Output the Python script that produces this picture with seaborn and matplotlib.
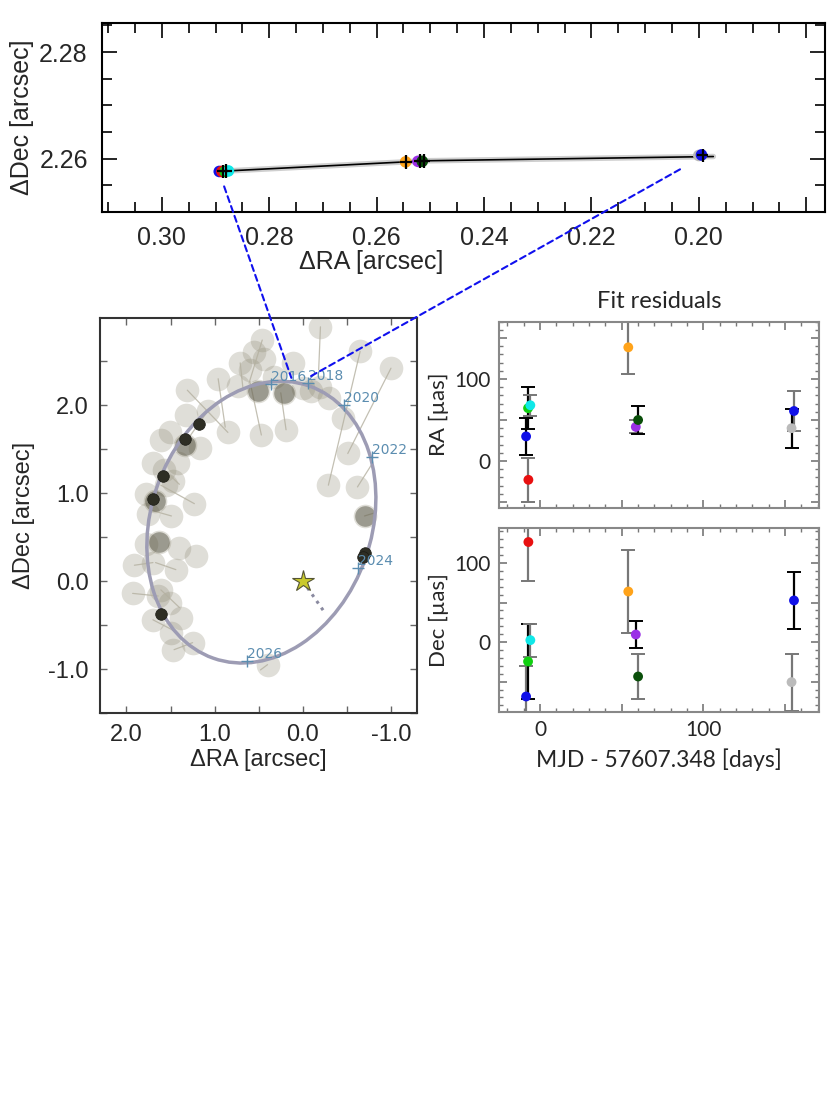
import numpy as np
import pandas as pd
import matplotlib
matplotlib.use('Agg')
import matplotlib.pyplot as plt
import seaborn as sns
from matplotlib.patches import Ellipse, ConnectionPatch
from matplotlib.ticker import MultipleLocator, FuncFormatter

sns.set_theme(style="ticks")
plt.rcParams['font.family'] = ['Liberation Sans', 'DejaVu Sans']
plt.rcParams['axes.unicode_minus'] = False

# --- zoomed astrometry panel (arcsec) ---
top_ra = [0.2893, 0.2888, 0.2882, 0.2876, 0.2546, 0.2523, 0.2515, 0.2000, 0.1995]
top_dec = [2.2576, 2.2576, 2.2576, 2.2577, 2.2594, 2.2595, 2.2595, 2.2606, 2.2607]
top_col = ['#1010e8', '#e81010', '#10d010', '#10e8e8', '#ffa31a', '#9b30e6', '#0a4f0a', '#b8b8b8', '#1010e8']
cross_ra = [0.2887, 0.2880, 0.2546, 0.2520, 0.2512, 0.1993]
cross_dec = [2.2576, 2.2577, 2.2594, 2.2595, 2.2596, 2.2606]
path_ra = [0.2898, 0.2546, 0.2512, 0.1973]
path_dec = [2.2576, 2.2594, 2.2596, 2.2604]

# --- orbit panel (arcsec) ---
circ_ra = [-0.20, 0.46, -0.65, -1.00, 0.44, 0.71, 0.11, 0.96, 1.31, -0.09, 0.21, 0.51,
           -0.30, -0.46, 0.85, 0.47, 0.19, -0.51, -0.29, -0.62, -0.70, 0.60, 0.00, -0.19,
           1.08, 1.32, 1.51, 1.61, 1.34, 1.17, 1.42, 1.70, 1.57, 1.78, 1.47, 1.23, 1.68,
           1.76, 1.49, 1.63, 1.78, 1.40, 1.91, 1.70, 1.44, 1.93, 1.64, 1.51, 1.61, 1.70,
           1.38, 1.49, 1.25, 1.47, 0.40, 1.55, 1.21, 0.33, 0.73, 0.55]
circ_dec = [2.89, 2.74, 2.61, 2.42, 2.53, 2.48, 2.48, 2.30, 2.17, 2.16, 2.14, 2.16,
            2.08, 1.85, 1.69, 1.66, 1.72, 1.46, 1.09, 1.07, 0.74, 2.40, 2.19, 2.21,
            1.93, 1.89, 1.70, 1.60, 1.55, 1.51, 1.34, 1.34, 1.26, 0.99, 1.14, 0.88, 0.91,
            0.76, 0.74, 0.44, 0.42, 0.38, 0.18, 0.21, 0.13, -0.14, -0.17, -0.25, -0.10, -0.44,
            -0.42, -0.59, -0.70, -0.78, -0.95, 1.09, 0.29, 2.32, 2.22, 2.60]
dark_big_ra = [1.34, 1.63, 0.21, 0.51, 1.68, -0.70]
dark_big_dec = [1.55, 0.44, 2.14, 2.16, 0.91, 0.74]
dark_ra = [1.18, 1.34, 1.59, 1.70, 1.61, -0.70, -0.68]
dark_dec = [1.79, 1.62, 1.20, 0.93, -0.38, 0.32, 0.27]
seg_ra0 = [-0.20, -0.65, -1.00, 1.31, 0.19, 0.47, -0.62, 0.46, 0.96, 0.71, 1.23, 1.93,
           1.70, 1.91, 1.44, 1.25, 0.40, -0.70, 1.08, 1.57, 1.49, 1.61]
seg_dec0 = [2.89, 2.61, 2.42, 2.17, 1.72, 1.66, 1.07, 2.74, 2.30, 2.48, 0.88, -0.14,
            -0.44, 0.18, 0.13, -0.70, -0.95, 0.74, 1.93, 1.26, 0.74, -0.10]
seg_ra1 = [-0.18, -0.29, -0.51, 0.85, 0.25, 0.60, -0.79, 0.61, 0.88, 0.68, 1.61, 1.64,
           1.47, 1.70, 1.67, 1.46, 0.48, -0.83, 1.30, 1.40, 1.70, 1.40]
seg_dec1 = [2.40, 1.09, 1.45, 1.69, 2.14, 2.27, 1.34, 2.25, 1.75, 2.20, 1.09, -0.17,
            -0.56, 0.21, 0.21, -0.78, -1.01, 0.78, 1.62, 1.10, 0.80, -0.30]
ell_center = (0.47, 0.67)
ell_width, ell_height, ell_angle = 3.28, 2.50, 109.4
years = ['2016', '2018', '2020', '2022', '2024', '2026']
year_ra = [0.36, -0.06, -0.47, -0.79, -0.63, 0.63]
year_dec = [2.24, 2.25, 2.00, 1.41, 0.15, -0.91]
star_ra, star_dec = [0.0], [0.0]
motion_ra = [0.0, -0.25]
motion_dec = [0.0, -0.36]

# --- fit residuals (micro-arcsec) ---
ep_col = ['#e81010', '#1010e8', '#10d010', '#10e8e8', '#ffa31a', '#9b30e6', '#0a4f0a', '#1010e8', '#bbbbbb']
ep_days = [-7.2, -8.6, -7.4, -6.0, 54.0, 58.6, 60.0, 155.5, 154.0]
res_ra = [-23, 30, 64.5, 68, 138.7, 41.6, 50, 61, 40]
err_ra = [27, 23, 26, 13, 32, 8, 17, 24, 24]
res_dec = [126.6, -68.8, -24.5, 2.5, 64, 9.6, -43.5, 52.7, -50.6]
err_dec = [49, 38, 47, 21, 53, 17, 28, 36.5, 36]
ecol_ra = ['#777777', 'black', 'black', '#777777', '#777777', '#777777', 'black', '#777777', 'black']
ecol_dec = ['#777777', '#777777', 'black', '#777777', '#777777', 'black', '#777777', 'black', '#777777']

fig = plt.figure(figsize=(8.3, 11.07), dpi=100)
ax_top = fig.add_axes([0.1225, 0.8085, 0.8715, 0.171])
ax_orb = fig.add_axes([0.1205, 0.3559, 0.3819, 0.3568])
ax_ra = fig.add_axes([0.6016, 0.5414, 0.3855, 0.168])
ax_dec = fig.add_axes([0.6016, 0.3571, 0.3855, 0.1657])

lato = ['Lato', 'DejaVu Sans']

# ---------------- top zoom panel ----------------
ax_top.plot(path_ra, path_dec, color='#bbbbbb', lw=4, alpha=0.7, zorder=1)
ax_top.plot(path_ra, path_dec, color='black', lw=1.2, zorder=2)
sns.scatterplot(x=top_ra, y=top_dec, hue=list(range(len(top_ra))), palette=top_col,
                s=70, linewidth=0, legend=False, ax=ax_top, zorder=3)
ax_top.errorbar(cross_ra, cross_dec, xerr=0.0011, yerr=0.0013, fmt='none',
                ecolor='black', elinewidth=1.6, capsize=0, zorder=4)
ax_top.set_xlim(0.3112, 0.1765)
ax_top.set_ylim(2.2500, 2.2855)
ax_top.xaxis.set_major_locator(MultipleLocator(0.02))
ax_top.xaxis.set_minor_locator(MultipleLocator(0.005))
ax_top.yaxis.set_major_locator(MultipleLocator(0.02))
ax_top.yaxis.set_minor_locator(MultipleLocator(0.005))
ax_top.xaxis.set_major_formatter(FuncFormatter(lambda v, p: f'{v:.2f}' if v > 0.195 else ''))
ax_top.yaxis.set_major_formatter(FuncFormatter(lambda v, p: f'{v:.2f}'))
ax_top.tick_params(which='both', direction='in', top=True, right=True, color='black')
ax_top.tick_params(which='major', length=11, width=1.2, labelsize=18, pad=10)
ax_top.tick_params(which='minor', length=7, width=1.2)
for sp in ax_top.spines.values():
    sp.set_linewidth(1.5)
    sp.set_color('black')
ax_top.set_xlabel('ΔRA [arcsec]', fontsize=18, labelpad=6)
ax_top.xaxis.set_label_coords(0.372, -0.20)
ax_top.set_ylabel('ΔDec [arcsec]', fontsize=18, labelpad=4)

# ---------------- orbit panel ----------------
sns.scatterplot(x=circ_ra, y=circ_dec, s=290, color='#8c8872', alpha=0.27,
                linewidth=0, legend=False, ax=ax_orb, zorder=1)
for x0, y0, x1, y1 in zip(seg_ra0, seg_dec0, seg_ra1, seg_dec1):
    ax_orb.plot([x0, x1], [y0, y1], color='#b4b0a0', lw=0.9, alpha=0.8, zorder=2)
sns.scatterplot(x=dark_big_ra, y=dark_big_dec, s=220, color='#4a4836', alpha=0.45,
                linewidth=0, legend=False, ax=ax_orb, zorder=3)
orbit = Ellipse(ell_center, ell_width, ell_height, angle=ell_angle, fill=False,
                edgecolor='#9d9cb4', lw=2.5, zorder=4)
ax_orb.add_patch(orbit)
sns.scatterplot(x=dark_ra, y=dark_dec, s=70, color='#2e2e24', linewidth=0.5,
                edgecolor='#1a1a14', legend=False, ax=ax_orb, zorder=5)
ax_orb.plot(motion_ra, motion_dec, color='#8a8aa0', ls=':', lw=2.2, zorder=4)
ax_orb.plot(star_ra, star_dec, marker='*', ms=16, color='#c9c92c', mec='#555533',
            mew=0.8, ls='none', zorder=6)
ax_orb.plot(year_ra, year_dec, marker='+', ms=8, mew=1.0, color='#5b8db0', ls='none', zorder=6)
for lab, x, y in zip(years, year_ra, year_dec):
    ax_orb.annotate(lab, (x, y), xytext=(0, 0), textcoords='offset points', ha='left',
                    va='bottom', color='#5b8db0', fontsize=10, family=['DejaVu Sans'], zorder=7)
ax_orb.set_xlim(2.30, -1.295)
ax_orb.set_ylim(-1.50, 2.99)
ax_orb.xaxis.set_major_locator(MultipleLocator(0.5))
ax_orb.yaxis.set_major_locator(MultipleLocator(0.5))
fmt_int = FuncFormatter(lambda v, p: f'{v:.1f}' if abs(v - round(v)) < 1e-6 else '')
ax_orb.xaxis.set_major_formatter(fmt_int)
ax_orb.yaxis.set_major_formatter(fmt_int)
ax_orb.tick_params(which='both', direction='in', top=True, right=True, length=5,
                   width=1, color='#666666', labelsize=17, pad=8)
for sp in ax_orb.spines.values():
    sp.set_linewidth(1.5)
    sp.set_color('#333333')
ax_orb.set_xlabel('ΔRA [arcsec]', fontsize=17, labelpad=2)
ax_orb.set_ylabel('ΔDec [arcsec]', fontsize=17, labelpad=10)

# connectors from zoom panel to orbit panel
for a, b in [((0.2884, 2.2548), (0.13, 2.31)), ((0.2035, 2.2580), (-0.057, 2.31))]:
    con = ConnectionPatch(xyA=a, coordsA=ax_top.transData, xyB=b, coordsB=ax_orb.transData,
                          color='#1010ee', ls=(0, (3, 2)), lw=1.5, zorder=10)
    fig.add_artist(con)

# ---------------- residual panels ----------------
for ax, vals, errs, ecols in [(ax_ra, res_ra, err_ra, ecol_ra), (ax_dec, res_dec, err_dec, ecol_dec)]:
    for d, v, e, ec in zip(ep_days, vals, errs, ecols):
        ax.errorbar(d, v, yerr=e, fmt='none', ecolor=ec, elinewidth=1.6, capsize=5,
                    capthick=1.4, zorder=2)
    sns.scatterplot(x=ep_days, y=vals, hue=list(range(len(ep_days))), palette=ep_col,
                    s=50, linewidth=0, legend=False, ax=ax, zorder=3)
    ax.set_xlim(-25, 171)
    ax.xaxis.set_major_locator(MultipleLocator(50))
    ax.xaxis.set_minor_locator(MultipleLocator(10))
    ax.yaxis.set_major_locator(MultipleLocator(50))
    ax.yaxis.set_minor_locator(MultipleLocator(10))
    ax.xaxis.set_major_formatter(FuncFormatter(lambda v, p: f'{v:.0f}' if v % 100 == 0 else ''))
    ax.yaxis.set_major_formatter(FuncFormatter(lambda v, p: f'{v:.0f}' if v % 100 == 0 else ''))
    ax.tick_params(which='both', direction='in', top=True, right=True, color='#777777')
    ax.tick_params(which='major', length=6, width=1.2, labelsize=15, labelfontfamily=lato, pad=6)
    ax.tick_params(which='minor', length=3, width=1)
    for sp in ax.spines.values():
        sp.set_linewidth(1.5)
        sp.set_color('#888888')

ax_ra.set_ylim(-57, 170)
ax_dec.set_ylim(-88, 144)
ax_ra.tick_params(labelbottom=False)
ax_ra.set_ylabel('RA [µas]', fontsize=16, family=lato, labelpad=4)
ax_dec.set_ylabel('Dec [µas]', fontsize=16, family=lato, labelpad=4)
ax_dec.set_xlabel('MJD - 57607.348 [days]', fontsize=16.5, family=lato, labelpad=6)
ax_ra.set_title('Fit residuals', fontsize=17, family=lato, pad=10)

fig.savefig('out.png', dpi=100)
